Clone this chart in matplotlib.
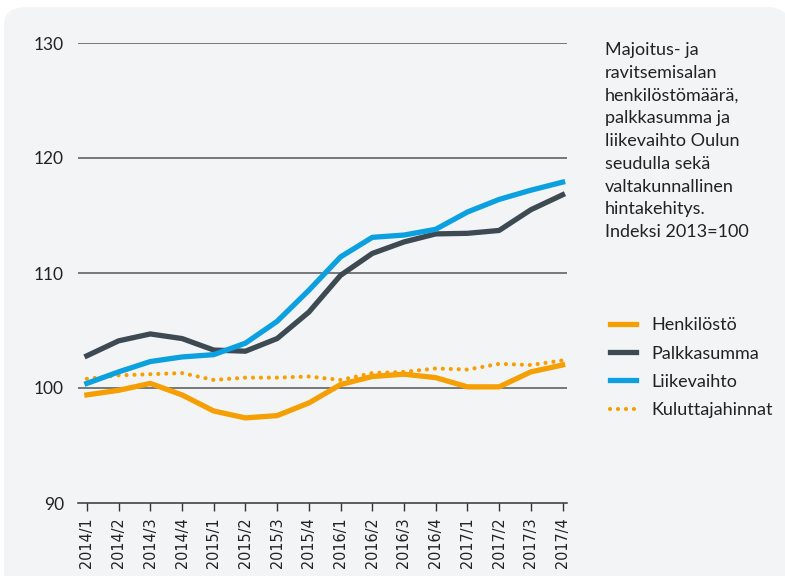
import matplotlib.pyplot as plt
from matplotlib.patches import FancyBboxPatch

# quarters 2014/1 .. 2017/4
quarters = ["2014/1", "2014/2", "2014/3", "2014/4",
            "2015/1", "2015/2", "2015/3", "2015/4",
            "2016/1", "2016/2", "2016/3", "2016/4",
            "2017/1", "2017/2", "2017/3", "2017/4"]

henkilosto = [99.4, 99.8, 100.4, 99.4, 98.0, 97.4, 97.6, 98.7,
              100.3, 101.0, 101.2, 100.9, 100.1, 100.1, 101.4, 102.0]
palkkasumma = [102.8, 104.1, 104.7, 104.3, 103.3, 103.2, 104.3, 106.6,
               109.8, 111.7, 112.7, 113.4, 113.45, 113.7, 115.5, 116.8]
liikevaihto = [100.4, 101.4, 102.3, 102.7, 102.9, 103.9, 105.8, 108.5,
               111.4, 113.1, 113.3, 113.8, 115.3, 116.4, 117.2, 117.9]
kuluttajahinnat = [100.8, 101.1, 101.2, 101.3, 100.7, 100.9, 100.9, 101.0,
                   100.7, 101.3, 101.4, 101.7, 101.6, 102.1, 102.0, 102.4]

yticks = [90, 100, 110, 120, 130]

title_text = ("Majoitus- ja\nravitsemisalan\nhenkilöstömäärä,\npalkkasumma ja\n"
              "liikevaihto Oulun\nseudulla sekä\nvaltakunnallinen\nhintakehitys.\n"
              "Indeksi 2013=100")

orange = "#f5a000"
dark = "#3e4a52"
blue = "#0ba0e0"
bg = "#f3f4f6"
txt = "#222222"

plt.rcParams['font.family'] = ['Lato', 'DejaVu Sans']

fig = plt.figure(figsize=(7.85, 5.76), dpi=100)
fig.patch.set_facecolor("white")
box = FancyBboxPatch((4 / 785, -0.05), 1.0, 1.0 - 7 / 576 + 0.05,
                     boxstyle="round,pad=0,rounding_size=0.03",
                     transform=fig.transFigure, facecolor=bg, edgecolor="none",
                     zorder=-5)
fig.patches.append(box)

ax = fig.add_axes([78 / 785, 1 - 503 / 576, (567 - 78) / 785, (503 - 43) / 576])
ax.set_facecolor("none")

x = list(range(len(quarters)))
lw = 3.8
ax.plot(x, henkilosto, color=orange, lw=lw, label="Henkilöstö", zorder=3)
ax.plot(x, palkkasumma, color=dark, lw=lw, label="Palkkasumma", zorder=3)
ax.plot(x, liikevaihto, color=blue, lw=lw, label="Liikevaihto", zorder=4)
ax.plot(x, kuluttajahinnat, color=orange, lw=3.0, linestyle=(0, (0.01, 1.9)),
        dash_capstyle="round", label="Kuluttajahinnat", zorder=3)

ax.set_xlim(-0.28, 15.14)
ax.set_ylim(90, 130)

for v in yticks[1:]:
    ax.axhline(v, color="#555555", lw=1.1, zorder=1)

for s in ["top", "right", "left"]:
    ax.spines[s].set_visible(False)
ax.spines["bottom"].set_color("#333333")
ax.spines["bottom"].set_linewidth(1.1)

ax.set_yticks(yticks)
ax.set_yticklabels([str(v) for v in yticks], fontsize=12.5, color=txt)
ax.tick_params(axis="y", length=0, pad=10)

ax.set_xticks(x)
ax.set_xticklabels(quarters, rotation=90, fontsize=11.5, color=txt,
                   family="DejaVu Sans", fontstretch="condensed")
ax.tick_params(axis="x", length=6, width=1, color="#333333", pad=4)

fig.text(605 / 785, 1 - 42 / 576, title_text, ha="left", va="top",
         fontsize=13, color=txt, linespacing=1.52)

fig.legend(loc="upper left", bbox_to_anchor=(594 / 785, 1 - 301 / 576),
           frameon=False, fontsize=13, handlelength=1.4, handletextpad=0.9,
           labelspacing=0.68, labelcolor=txt)

fig.savefig("out.png", dpi=100, facecolor=fig.get_facecolor())
